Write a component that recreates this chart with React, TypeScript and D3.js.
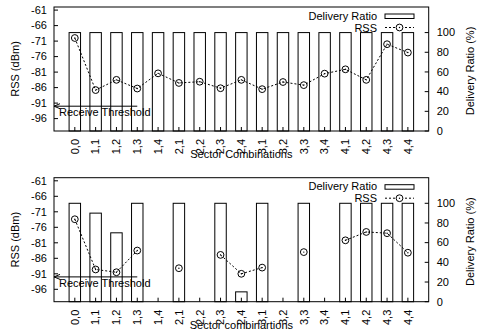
import React from 'react';
import * as d3 from 'd3';

const categories = ['0,0', '1,1', '1,2', '1,3', '1,4', '2,1', '2,2', '2,3', '2,4', '3,1', '3,2', '3,3', '3,4', '4,1', '4,2', '4,3', '4,4'];

const topRatio = [100, 100, 100, 100, 100, 100, 100, 100, 100, 100, 100, 100, 100, 100, 100, 100, 100];
const topRss = [-70, -86.8, -83.5, -86.3, -81.4, -84.5, -84.1, -86.2, -83.5, -86.5, -84.2, -85.2, -81.5, -80.1, -83.5, -72.0, -74.7];

const bottomRatio = [100, 90, 70, 100, 0, 100, 0, 100, 10, 100, 0, 100, 0, 100, 100, 100, 100];
const bottomRss: (number | null)[] = [-73.4, -89.6, -90.5, -83.5, null, -89.2, null, -84.9, -91, -89.0, null, -84.0, null, -80.2, -77.5, -77.9, -84.2];

const rssTicks = [-61, -66, -71, -76, -81, -86, -91, -96];
const ratioTicks = [0, 20, 40, 60, 80, 100];
const threshold = -92;

const font = '"Liberation Sans", Arial, sans-serif';

const left = 54;
const right = 428.7;
const top = 7;
const bottom = 131;

type PanelProps = {
  offsetY: number;
  ratio: number[];
  rss: (number | null)[];
  xLabel: string;
};

const Panel = ({ offsetY, ratio, rss, xLabel }: PanelProps) => {
  const x = d3.scaleLinear().domain([-1, categories.length]).range([left, right]);
  const y = d3.scaleLinear().domain([-100, -60]).range([bottom, top]);
  const y2 = d3.scaleLinear().domain([0, 126]).range([bottom, top]);
  const barW = x(0.55) - x(0);

  const line = d3.line<number | null>()
    .defined(d => d !== null)
    .x((_, i) => x(i))
    .y(d => y(d as number));

  return (
    <g transform={`translate(0,${offsetY})`} fontFamily={font} fontSize={11}>
      {/* bars */}
      {ratio.map((v, i) => (
        <rect key={i} x={x(i) - barW / 2} y={y2(v)} width={barW} height={bottom - y2(v)}
          fill="white" stroke="black" strokeWidth={1} />
      ))}

      {/* rss line + points */}
      <path d={line(rss) || ''} fill="none" stroke="black" strokeWidth={1} strokeDasharray="2,2" />
      {rss.map((v, i) => v === null ? null : (
        <g key={i}>
          <circle cx={x(i)} cy={y(v)} r={3.4} fill="none" stroke="black" strokeWidth={1} />
          <circle cx={x(i)} cy={y(v)} r={0.7} fill="black" />
        </g>
      ))}

      {/* threshold arrow */}
      <line x1={x(3)} x2={x(-1)} y1={y(threshold)} y2={y(threshold)} stroke="black" strokeWidth={1} />
      <path d={`M${x(-1) + 6},${y(threshold) - 2.5}L${x(-1)},${y(threshold)}L${x(-1) + 6},${y(threshold) + 2.5}`}
        fill="none" stroke="black" strokeWidth={1} />
      <text x={x(-1) + 5} y={y(-95) + 0.5}>Receive Threshold</text>

      {/* frame */}
      <rect x={left} y={top} width={right - left} height={bottom - top} fill="none" stroke="black" strokeWidth={1} />

      {/* left axis */}
      {rssTicks.map(t => (
        <g key={t}>
          <line x1={left} x2={left + 4} y1={y(t)} y2={y(t)} stroke="black" />
          <text x={left - 7} y={y(t)} dy="0.35em" textAnchor="end">{t}</text>
        </g>
      ))}
      <text transform={`translate(19,${(top + bottom) / 2}) rotate(-90)`} textAnchor="middle">RSS (dBm)</text>

      {/* right axis */}
      {ratioTicks.map(t => (
        <g key={t}>
          <line x1={right - 4} x2={right} y1={y2(t)} y2={y2(t)} stroke="black" />
          <text x={right + 8} y={y2(t)} dy="0.35em">{t}</text>
        </g>
      ))}
      <text transform={`translate(470,${(top + bottom) / 2 + 2}) rotate(-90)`} textAnchor="middle" dy="0.35em">Delivery Ratio (%)</text>

      {/* x axis */}
      {categories.map((c, i) => (
        <g key={c}>
          <line x1={x(i)} x2={x(i)} y1={bottom} y2={bottom - 4} stroke="black" />
          <text transform={`translate(${x(i)},${bottom + 8}) rotate(-90)`} textAnchor="end" dy="0.35em">{c}</text>
        </g>
      ))}
      <text x={(left + right) / 2} y={158} textAnchor="middle">{xLabel}</text>

      {/* legend */}
      <text x={377} y={19.5} textAnchor="end">Delivery Ratio</text>
      <rect x={385} y={14} width={29} height={4.5} fill="white" stroke="black" />
      <text x={377} y={31.5} textAnchor="end">RSS</text>
      <line x1={385} x2={414} y1={27.5} y2={27.5} stroke="black" strokeDasharray="2,2" />
      <circle cx={399.5} cy={27.5} r={3.4} fill="white" stroke="black" />
      <circle cx={399.5} cy={27.5} r={0.7} fill="black" />
    </g>
  );
};

const App = () => (
  <svg width={478} height={330} style={{ position: 'absolute', left: 0, top: 0, background: 'white' }}>
    <rect width={478} height={330} fill="white" />
    <Panel offsetY={0} ratio={topRatio} rss={topRss} xLabel="Sector Combinations" />
    <Panel offsetY={170.7} ratio={bottomRatio} rss={bottomRss} xLabel="Sector combinartions" />
  </svg>
);

export default App;
